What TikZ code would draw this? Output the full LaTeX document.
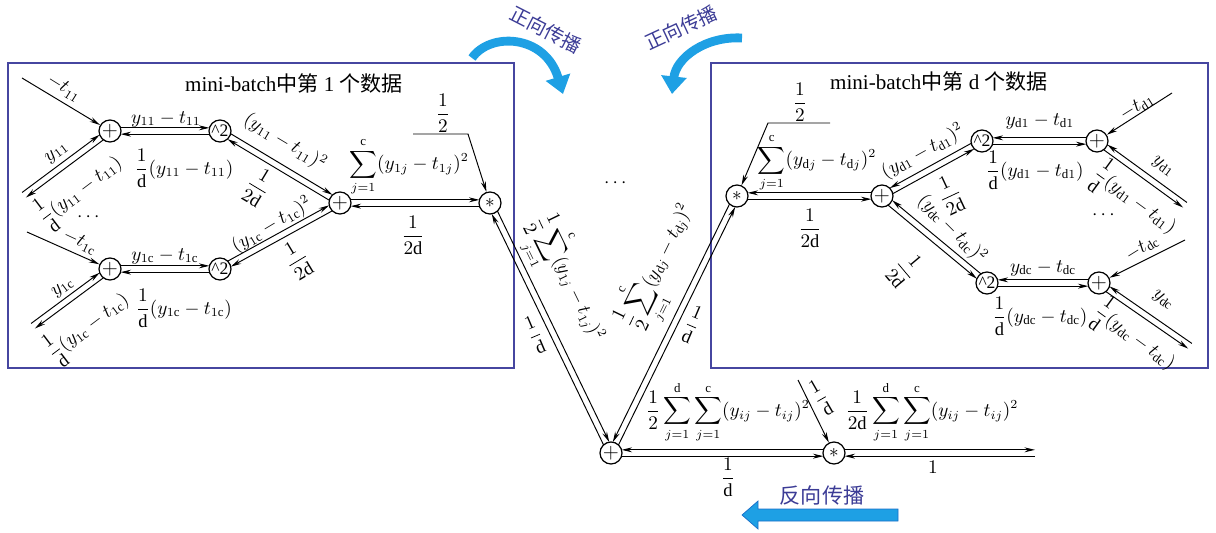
\documentclass[tikz,border=0pt]{standalone}
\usepackage{amsmath}
\usepackage{fontspec}
\setmainfont{Liberation Serif}
\newfontfamily\cjk{Noto Sans CJK SC}
\usetikzlibrary{arrows.meta,calc}
\definecolor{boxblue}{RGB}{70,70,160}
\definecolor{txtblue}{RGB}{60,60,150}
\definecolor{arrcyan}{RGB}{30,160,228}
\definecolor{arrdark}{RGB}{25,110,200}
\newcommand\dblL[4]{%
  \draw[arr,shorten <=#3,shorten >=#4] ($(#1)!1.8pt!90:(#2)$) -- ($(#2)!1.8pt!-90:(#1)$);
  \draw[arr,shorten <=#4,shorten >=#3] ($(#2)!1.8pt!90:(#1)$) -- ($(#1)!1.8pt!-90:(#2)$);}
\newcommand\dblR[4]{%
  \draw[arr,shorten <=#3,shorten >=#4] ($(#1)!1.8pt!-90:(#2)$) -- ($(#2)!1.8pt!90:(#1)$);
  \draw[arr,shorten <=#4,shorten >=#3] ($(#2)!1.8pt!-90:(#1)$) -- ($(#1)!1.8pt!90:(#2)$);}
\newcommand\dd{\mathrm{d}}
\newcommand\cc{\mathrm{c}}
\begin{document}
\begin{tikzpicture}[x=0.02cm,y=-0.02cm,
  op/.style={circle,draw,line width=0.7pt,minimum size=0.44cm,inner sep=0pt,fill=white},
  arr/.style={line width=0.55pt,-{Stealth[length=6pt,width=2.8pt]}},
  lab/.style={inner sep=1pt,font=\fontsize{10.5}{12}\selectfont},
  ttl/.style={inner sep=1pt,anchor=west,font=\fontsize{12}{14}\selectfont},
  cjklab/.style={inner sep=1pt,text=txtblue,font=\cjk\fontsize{12}{14}\selectfont},
  cjkarc/.style={inner sep=0pt,text=txtblue,font=\cjk\fontsize{11}{12}\selectfont},
  bigarr/.style={arrcyan,line width=5pt,-{Triangle[length=10pt,width=14pt]}},
  plusn/.style={op,font=\fontsize{13}{13}\selectfont},
  sqn/.style={op,font=\fontsize{10}{10}\selectfont},
  starn/.style={op,font=\fontsize{11}{11}\selectfont}]
\useasboundingbox (0,0) rectangle (1216,533);

% boxes
\draw[boxblue,line width=1pt] (8,63) rectangle (514,368);
\draw[boxblue,line width=1pt] (711,63) rectangle (1208,368);
\node[ttl] (t1) at (183,83) {mini-batch{\cjk 中第} 1 {\cjk 个数据}};
\node[ttl] (t2) at (828,81) {mini-batch{\cjk 中第} d {\cjk 个数据}};

% operation nodes
\node[plusn] (p11) at (110,131) {$+$};
\node[sqn]   (s11) at (220,131) {\textasciicircum 2};
\node[plusn] (p1c) at (110,269) {$+$};
\node[sqn]   (s1c) at (220,269) {\textasciicircum 2};
\node[plusn] (aL)  at (340,203) {$+$};
\node[starn] (mL)  at (490,203) {$*$};
\node[starn] (mR)  at (737,196) {$*$};
\node[plusn] (aR)  at (882,196) {$+$};
\node[sqn]   (sd1) at (982,141) {\textasciicircum 2};
\node[plusn] (pd1) at (1097,141) {$+$};
\node[sqn]   (sdc) at (987,283) {\textasciicircum 2};
\node[plusn] (pdc) at (1099,283) {$+$};
\node[plusn] (pB)  at (611,453) {$+$};
\node[starn] (mB)  at (834,453) {$*$};

% free ends
\coordinate (e11t) at (22,78);
\coordinate (e11y) at (24,195);
\coordinate (e1ct) at (27,232);
\coordinate (e1cy) at (33,326);
\coordinate (h1s) at (413,134);
\coordinate (h1c) at (468,134);
\coordinate (h2s) at (830,123);
\coordinate (h2c) at (768,123);
\coordinate (ed1t) at (1172,93);
\coordinate (ed1y) at (1185,205);
\coordinate (edct) at (1185,240);
\coordinate (edcy) at (1190,346);
\coordinate (bin) at (798,380);
\coordinate (oend) at (1035,453);

% single connectors
\draw[arr] (e11t) -- (p11);
\draw[arr] (e1ct) -- (p1c);
\draw[arr] (ed1t) -- (pd1);
\draw[arr] (edct) -- (pdc);
\draw[arr] (h1s) -- (h1c) -- (mL);
\draw[arr] (h2s) -- (h2c) -- (mR);
\draw[arr] (bin) -- (mB);

% double connectors
\dblL{e11y}{p11}{0pt}{6pt}
\dblL{e1cy}{p1c}{0pt}{6pt}
\dblL{p11}{s11}{6pt}{6pt}
\dblL{p1c}{s1c}{6pt}{6pt}
\dblL{s11}{aL}{6pt}{6pt}
\dblL{s1c}{aL}{6pt}{6pt}
\dblL{aL}{mL}{6pt}{6pt}
\dblL{mL}{pB}{6pt}{6pt}
\dblR{mR}{pB}{6pt}{6pt}
\dblR{pB}{mB}{6pt}{6pt}
\dblL{mB}{oend}{6pt}{0pt}
\dblR{aR}{mR}{6pt}{6pt}
\dblR{sd1}{aR}{6pt}{6pt}
\dblR{sdc}{aR}{6pt}{6pt}
\dblR{pd1}{sd1}{6pt}{6pt}
\dblR{pdc}{sdc}{6pt}{6pt}
\dblR{ed1y}{pd1}{0pt}{6pt}
\dblR{edcy}{pdc}{0pt}{6pt}

% left box labels
\node[lab,rotate=-32] (l1) at (64,88) {$-t_{11}$};
\node[lab] (l2) at (166,119) {$y_{11}-t_{11}$};
\node[lab] (l3) at (184,168) {$\dfrac{1}{\dd}(y_{11}-t_{11})$};
\node[lab,rotate=37] (l4) at (57,153) {$y_{11}$};
\node[lab,rotate=37] (l5) at (80,190) {$\dfrac{1}{\dd}(y_{11}-t_{11})$};
\node[lab] (l6) at (90,217) {$\cdots$};
\node[lab,rotate=-25] (l7) at (80,242) {$-t_{1\cc}$};
\node[lab] (l8) at (165,256) {$y_{1\cc}-t_{1\cc}$};
\node[lab] (l9) at (184,308) {$\dfrac{1}{\dd}(y_{1\cc}-t_{1\cc})$};
\node[lab,rotate=37] (l10) at (63,288) {$y_{1\cc}$};
\node[lab,rotate=37] (l11) at (88,326) {$\dfrac{1}{\dd}(y_{1\cc}-t_{1\cc})$};
\node[lab,rotate=-31] (l12) at (285,142) {$(y_{11}-t_{11})^2$};
\node[lab,rotate=-31] (l13) at (258,187) {$\dfrac{1}{2\dd}$};
\node[lab,rotate=31] (l14) at (272,225) {$(y_{1\cc}-t_{1\cc})^2$};
\node[lab,rotate=31] (l15) at (297,260) {$\dfrac{1}{2\dd}$};
\node[lab] (l16) at (409,167) {$\displaystyle\sum_{j=1}^{\cc}(y_{1j}-t_{1j})^2$};
\node[lab] (l17) at (413,235) {$\dfrac{1}{2\dd}$};
\node[lab] (l18) at (443,113) {$\dfrac{1}{2}$};

% middle labels
\node[lab] (m1) at (617,183) {$\cdots$};
\node[lab,rotate=-64] (m2) at (566,280) {$\dfrac{1}{2}\displaystyle\sum_{j=1}^{\cc}(y_{1j}-t_{1j})^2$};
\node[lab,rotate=23] (m3) at (535,335) {$\dfrac{1}{\dd}$};
\node[lab,rotate=64] (m4) at (660,267) {$\dfrac{1}{2}\displaystyle\sum_{j=1}^{\cc}(y_{\dd j}-t_{\dd j})^2$};
\node[lab,rotate=-23] (m5) at (692,325) {$\dfrac{1}{\dd}$};

% right box labels
\node[lab] (r1) at (800,102) {$\dfrac{1}{2}$};
\node[lab] (r2) at (817,163) {$\displaystyle\sum_{j=1}^{\cc}(y_{\dd j}-t_{\dd j})^2$};
\node[lab] (r3) at (810,228) {$\dfrac{1}{2\dd}$};
\node[lab,rotate=29] (r4) at (923,152) {$(y_{\dd1}-t_{\dd1})^2$};
\node[lab,rotate=25] (r5) at (950,195) {$\dfrac{1}{2\dd}$};
\node[lab,rotate=-45] (r6) at (952,229) {$(y_{\dd\cc}-t_{\dd\cc})^2$};
\node[lab,rotate=-50] (r7) at (905,270) {$\dfrac{1}{2\dd}$};
\node[lab] (r8) at (1040,121) {$y_{\dd1}-t_{\dd1}$};
\node[lab] (r9) at (1035,170) {$\dfrac{1}{\dd}(y_{\dd1}-t_{\dd1})$};
\node[lab,rotate=32] (r10) at (1137,107) {$-t_{\dd1}$};
\node[lab,rotate=-36] (r11) at (1163,167) {$y_{\dd1}$};
\node[lab,rotate=-36] (r12) at (1135,200) {$\dfrac{1}{\dd}(y_{\dd1}-t_{\dd1})$};
\node[lab] (r13) at (1105,215) {$\cdots$};
\node[lab,rotate=32] (r14) at (1142,248) {$-t_{\dd\cc}$};
\node[lab] (r15) at (1043,268) {$y_{\dd\cc}-t_{\dd\cc}$};
\node[lab] (r16) at (1040,316) {$\dfrac{1}{\dd}(y_{\dd\cc}-t_{\dd\cc})$};
\node[lab,rotate=-36] (r17) at (1163,300) {$y_{\dd\cc}$};
\node[lab,rotate=-36] (r18) at (1135,337) {$\dfrac{1}{\dd}(y_{\dd\cc}-t_{\dd\cc})$};

% bottom labels
\node[lab] (b1) at (728,412) {$\dfrac{1}{2}\displaystyle\sum_{j=1}^{\dd}\sum_{j=1}^{\cc}(y_{ij}-t_{ij})^2$};
\node[lab,rotate=30] (b2) at (821,398) {$\dfrac{1}{\dd}$};
\node[lab] (b3) at (932,412) {$\dfrac{1}{2\dd}\displaystyle\sum_{j=1}^{\dd}\sum_{j=1}^{\cc}(y_{ij}-t_{ij})^2$};
\node[lab] (b4) at (728,477) {$\dfrac{1}{\dd}$};
\node[lab] (b5) at (933,467) {$1$};

% propagation arrows
\draw[bigarr] (472,58) .. controls (490,32) and (545,34) .. (563,94);
\node[cjkarc,rotate=-27] (f1) at (546,30) {正向传播};
\draw[bigarr] (742,38) .. controls (705,36) and (676,58) .. (672,94);
\node[cjkarc,rotate=25] (f2) at (681,28) {正向传播};
\fill[arrcyan,draw=arrdark,line width=0.4pt] (742,515) -- (758,501) -- (758,509) -- (898,509) -- (898,521) -- (758,521) -- (758,529) -- cycle;
\node[cjklab] (f3) at (822,495) {反向传播};
\end{tikzpicture}
\end{document}
